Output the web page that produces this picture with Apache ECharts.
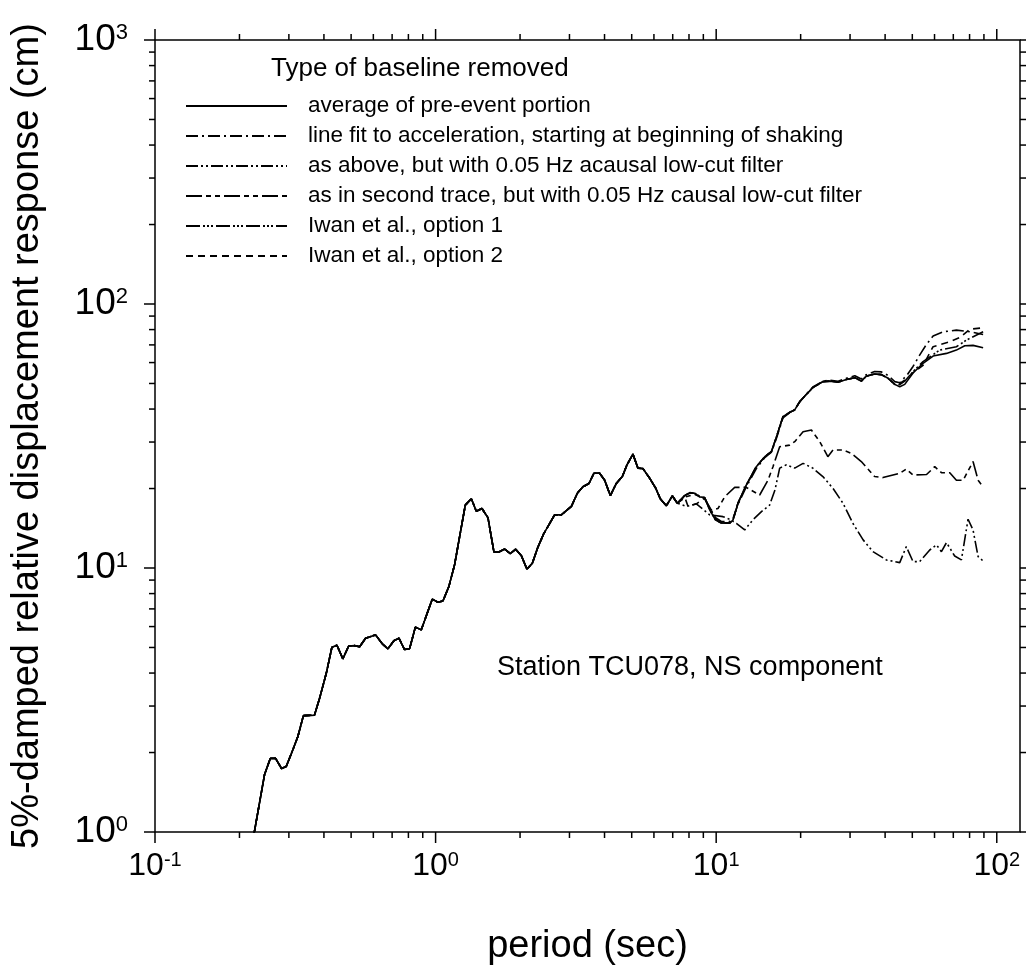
<!DOCTYPE html>
<html><head><meta charset="utf-8">
<script src="https://cdn.jsdelivr.net/npm/echarts@6/dist/echarts.min.js"></script>
<style>html,body{margin:0;padding:0;background:#fff}#c{width:1026px;height:971px}</style>
</head><body><div id="c"></div>
<script>
const FONT = '"Liberation Sans", Arial, Helvetica, sans-serif';

const seriesNames = [
  'average of pre-event portion',
  'line fit to acceleration, starting at beginning of shaking',
  'as above, but with 0.05 Hz acausal low-cut filter',
  'as in second trace, but with 0.05 Hz causal low-cut filter',
  'Iwan et al., option 1',
  'Iwan et al., option 2'
];

// shared part of all traces (periods in s, response in cm)
const basePeriod = [0.217,0.2457,0.2576,0.269,0.2825,0.2935,0.310,0.323,0.338,0.370,0.386,0.408,0.427,0.445,0.467,0.490,0.514,0.536,0.563,0.611,0.646,0.676,0.710,0.740,0.775,0.808,0.847,0.889,0.973,1.019,1.062,1.115,1.169,1.218,1.276,1.341,1.397,1.463,1.537,1.614,1.681,1.762,1.846,1.929,2.021,2.116,2.212,2.316,2.427,2.656,2.806,3.047,3.20,3.35,3.52,3.667,3.843,4.005,4.196,4.405,4.63,4.81,5.05,5.26,5.48,5.79,6.09,6.32,6.64,6.98,7.27];
const baseValue = [0.785,1.65,1.90,1.90,1.74,1.77,2.05,2.30,2.76,2.77,3.21,4.0,5.01,5.10,4.53,5.06,5.08,5.03,5.42,5.58,5.16,4.94,5.30,5.42,4.91,4.95,5.97,5.83,7.62,7.42,7.50,8.5,10.3,13.15,17.3,18.3,16.4,16.8,15.5,11.5,11.5,11.8,11.34,11.78,11.14,9.9,10.43,12.0,13.46,15.9,15.9,17.1,19.2,20.3,20.9,22.85,22.85,21.5,18.8,20.9,22.2,24.6,27.0,23.9,23.8,21.9,20.05,18.3,17.2,18.75,17.6];

// trace 1: average of pre-event portion
const solidPeriod = [7.72,8.05,8.38,8.73,9.1,9.48,9.95,10.43,11.17,11.48,11.96,12.8,13.9,14.9,15.74,16.4,17.3,18.3,19.05,19.85,20.7,22.1,24.0,25.4,27.2,29.1,31.2,32.9,34.3,36.7,38.8,41.0,43.3,45.1,47.0,50.3,54.6,59.3,66.2,71.8,76.9,82.3,89.4];
const solidValue = [18.8,19.3,19.2,18.6,18.5,16.6,15.2,14.8,14.8,15.2,17.6,20.6,24.2,26.4,27.6,31.4,37.4,38.9,39.7,42.7,44.8,48.2,50.8,51.05,50.5,51.8,52.6,51.05,53.3,54.3,54.0,52.3,49.6,48.6,49.6,54.8,59.6,63.5,65.0,66.9,69.5,69.7,68.3];

// trace 2: line fit
const lineFitPeriod = [7.72,8.05,8.38,8.73,9.1,9.48,9.95,10.43,11.17,11.48,11.96,12.8,13.9,14.9,15.74,16.4,17.3,18.3,19.05,19.85,20.7,22.1,24.0,25.4,27.2,29.1,31.2,32.9,34.3,36.7,38.8,41.0,43.3,45.1,48.0,50.3,53.1,56.0,59.3,64.4,71.8,80.1,89.4];
const lineFitValue = [18.8,19.2,19.2,18.7,18.3,16.9,15.5,15.0,15.0,15.4,17.4,20.3,23.8,26.2,27.5,31.0,37.0,38.8,39.8,42.5,44.8,48.5,51.0,51.5,51.0,52.3,53.5,52.0,54.0,55.5,55.3,53.6,50.8,50.3,54.0,58.0,64.0,70.0,75.6,78.5,79.6,78.5,76.7];

// trace 3: acausal low-cut
const acausalPeriod = [7.83,8.5,9.48,10.57,11.17,11.8,12.64,13.5,14.5,15.5,16.2,16.84,17.8,19.05,20.4,22.1,24.0,26.1,28.3,30.7,33.4,36.2,40.4,45.1,47.6,50.3,53.1,57.7,61.0,63.5,66.2,70.8,74.8,79.0,82.3,85.8,89.9];
const acausalValue = [17.1,17.5,15.9,15.65,15.3,14.77,13.94,15.2,16.35,17.3,19.75,23.9,24.6,23.9,24.9,23.9,22.2,20.0,17.6,14.77,12.78,11.53,10.73,10.48,12.05,10.57,10.57,11.7,12.23,11.53,12.48,11.1,10.73,15.3,13.94,11.05,10.57];

// trace 4: causal low-cut
const causalPeriod = [7.8,8.4,9.1,9.6,10.15,10.72,11.64,12.8,14.29,15.3,15.94,16.84,18.28,19.05,20.4,21.85,23.4,25.0,26.1,28.3,30.3,32.9,36.7,39.3,45.1,47.6,50.3,56.2,60.1,63.5,68.0,71.8,75.9,82.3,85.8,89.4];
const causalValue = [18.6,19.0,18.3,16.6,16.8,18.6,20.2,20.2,18.9,21.5,24.2,28.8,29.2,30.1,32.8,33.3,30.1,26.4,28.0,28.0,27.2,25.3,22.2,22.0,22.85,23.7,22.5,22.6,24.2,22.96,22.96,21.5,21.5,25.3,21.5,20.3];

// trace 5: Iwan option 1 (after the common part up to 43 s)
const iwan1Period = [45.1,47.0,50.3,54.6,62.6,71.8,78.0,89.4];
const iwan1Value = [49.5,51.0,55.5,60.5,66.9,68.9,73.0,78.5];

// trace 6: Iwan option 2
const iwan2EarlyPeriod = [7.72,7.94,8.5,9.1,9.48,9.95];
const iwan2EarlyValue = [18.6,17.1,17.5,18.4,16.8,15.3];
const iwan2Period = [45.1,47.0,50.3,54.6,59.3,68.0,73.9,80.1,89.4];
const iwan2Value = [50.0,51.5,55.0,58.5,68.9,71.9,74.7,80.2,81.3];

// axis ticks
const xMajorTicks = [0.1, 1, 10, 100];
const xMinorTicks = [0.2,0.3,0.4,0.5,0.6,0.7,0.8,0.9,2,3,4,5,6,7,8,9,20,30,40,50,60,70,80,90];
const yMajorTicks = [1, 10, 100, 1000];
const yMinorTicks = [2,3,4,5,6,7,8,9,20,30,40,50,60,70,80,90,200,300,400,500,600,700,800,900];

const X_MIN = 0.1, X_MAX = 121, Y_MIN = 1, Y_MAX = 1000;

function pairs(p, v) { return p.map((t, i) => [t, v[i]]); }
const base = pairs(basePeriod, baseValue);
const solidAll = pairs(solidPeriod, solidValue);
const solidMid = (lo, hi) => solidAll.filter(d => d[0] >= lo && d[0] <= hi);

const data1 = base.concat(solidAll);
const data2 = base.concat(pairs(lineFitPeriod, lineFitValue));
const data3 = base.concat(pairs(acausalPeriod, acausalValue));
const data4 = base.concat(pairs(causalPeriod, causalValue));
const data5 = base.concat(solidMid(7, 43.5), pairs(iwan1Period, iwan1Value));
const data6 = base.concat(pairs(iwan2EarlyPeriod, iwan2EarlyValue), solidMid(10, 43.5), pairs(iwan2Period, iwan2Value));

const dashTypes = ['solid', [12,4,2,4], [12,3,2,3,2,3], [16,4,5,4,5,4], [14,3,2,2,2,2,2,3], [7,5]];
const allData = [data1, data2, data3, data4, data5, data6];

function powLabel(v) {
  const e = Math.round(Math.log10(v));
  if (Math.abs(v / Math.pow(10, e) - 1) > 1e-6) return '';
  return '{b|10}{s|' + e + '}';
}

const lineSeries = seriesNames.map((n, i) => ({
  name: n, type: 'line', data: allData[i], symbol: 'none', smooth: false,
  lineStyle: { color: '#000', width: 1.6, type: dashTypes[i] },
  itemStyle: { color: '#000' }, clip: true, silent: true, z: 3
}));

const xTickData = xMajorTicks.map(v => [v, Y_MIN, 0]).concat(xMinorTicks.map(v => [v, Y_MIN, 1]));
const yTickData = yMajorTicks.map(v => [X_MIN, v, 0]).concat(yMinorTicks.map(v => [X_MIN, v, 1]));

const tickStyle = { stroke: '#000', lineWidth: 1.5 };
const xTickSeries = {
  type: 'custom', silent: true, z: 5, clip: false, data: xTickData, encode: { x: 0, y: 1 },
  renderItem(params, api) {
    const v = api.value(0), len = api.value(2) === 0 ? 11 : 6;
    const b = api.coord([v, Y_MIN]), t = api.coord([v, Y_MAX]);
    return { type: 'group', children: [
      { type: 'line', shape: { x1: b[0], y1: b[1], x2: b[0], y2: b[1] + len }, style: tickStyle },
      { type: 'line', shape: { x1: t[0], y1: t[1], x2: t[0], y2: t[1] - len }, style: tickStyle }
    ]};
  }
};
const yTickSeries = {
  type: 'custom', silent: true, z: 5, clip: false, data: yTickData, encode: { x: 0, y: 1 },
  renderItem(params, api) {
    const v = api.value(1), len = api.value(2) === 0 ? 11 : 6;
    const l = api.coord([X_MIN, v]), r = api.coord([X_MAX, v]);
    return { type: 'group', children: [
      { type: 'line', shape: { x1: l[0], y1: l[1], x2: l[0] - len, y2: l[1] }, style: tickStyle },
      { type: 'line', shape: { x1: r[0], y1: r[1], x2: r[0] + len, y2: r[1] }, style: tickStyle }
    ]};
  }
};

const chart = echarts.init(document.getElementById('c'), null, { renderer: 'canvas' });
chart.setOption({
  backgroundColor: '#fff',
  animation: false,
  textStyle: { fontFamily: FONT },
  grid: { left: 155, top: 40, right: 6, bottom: 139, show: true, borderColor: '#000', borderWidth: 1.5, backgroundColor: 'transparent', containLabel: false },
  title: [
    { text: 'Type of baseline removed', left: 271, top: 56, padding: 0,
      textStyle: { fontSize: 26, fontWeight: 'normal', color: '#000', fontFamily: FONT } },
    { text: 'Station TCU078, NS component', left: 497, top: 654, padding: 0,
      textStyle: { fontSize: 27, fontWeight: 'normal', color: '#000', fontFamily: FONT } }
  ],
  legend: {
    data: seriesNames, orient: 'vertical', left: 185, top: 94.5, padding: 0,
    itemWidth: 101, itemHeight: 12, itemGap: 7, selectedMode: false,
    itemStyle: { opacity: 0 },
    textStyle: { fontSize: 22.5, lineHeight: 22, color: '#000', fontFamily: FONT, padding: [0, 0, 0, 16] }
  },
  xAxis: {
    type: 'log', logBase: 10, min: X_MIN, max: X_MAX,
    name: 'period (sec)', nameLocation: 'middle', nameGap: 96,
    nameTextStyle: { fontSize: 38, color: '#000', fontFamily: FONT },
    axisLine: { show: false }, axisTick: { show: false }, splitLine: { show: false }, minorTick: { show: false },
    axisLabel: { formatter: powLabel, margin: 18, color: '#000',
      rich: { b: { fontSize: 32, fontFamily: FONT, color: '#000' }, s: { fontSize: 20, fontFamily: FONT, color: '#000', verticalAlign: 'top' } } }
  },
  yAxis: {
    type: 'log', logBase: 10, min: Y_MIN, max: Y_MAX,
    name: '5%-damped relative displacement response (cm)', nameLocation: 'middle', nameRotate: 90, nameGap: 108,
    nameTextStyle: { fontSize: 38, color: '#000', fontFamily: FONT },
    axisLine: { show: false }, axisTick: { show: false }, splitLine: { show: false },
    axisLabel: { formatter: powLabel, margin: 27, color: '#000',
      rich: { b: { fontSize: 37, fontFamily: FONT, color: '#000' }, s: { fontSize: 22, fontFamily: FONT, color: '#000', verticalAlign: 'top' } } }
  },
  series: lineSeries.concat([xTickSeries, yTickSeries])
});
</script></body></html>
